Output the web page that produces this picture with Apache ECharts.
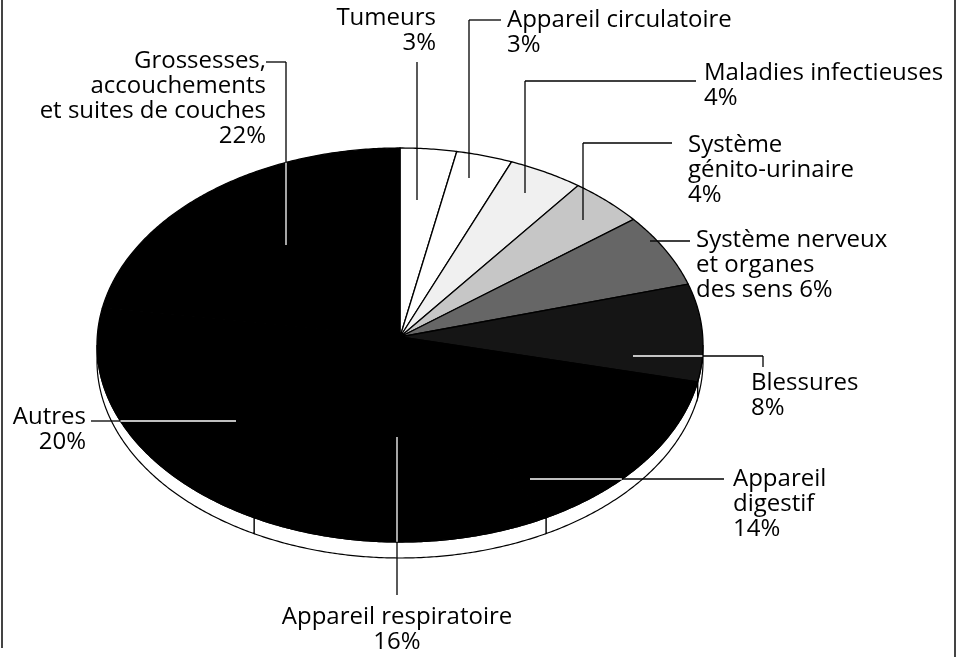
<!DOCTYPE html>
<html><head><meta charset="utf-8">
<script src="https://cdn.jsdelivr.net/npm/echarts@6/dist/echarts.min.js"></script>
<style>html,body{margin:0;padding:0;background:#fff}#c{width:959px;height:657px}</style>
</head><body><div id="c"></div>
<script>
// ---- data ----
const categories = ['Tumeurs','Appareil circulatoire','Maladies infectieuses','Système génito-urinaire','Système nerveux et organes des sens','Blessures','Appareil digestif','Appareil respiratoire','Autres','Grossesses, accouchements et suites de couches'];
const values = [3,3,4,4,6,8,14,16,20,22];
const labelTexts = ['Tumeurs\n{p}','Appareil circulatoire\n{p}','Maladies infectieuses\n{p}','Système\ngénito-urinaire\n{p}','Système nerveux\net organes\ndes sens {p}','Blessures\n{p}','Appareil\ndigestif\n{p}','Appareil respiratoire\n{p}','Autres\n{p}','Grossesses,\naccouchements\net suites de couches\n{p}'];

// ---- styles / layout ----
const fills = ['#ffffff','#ffffff','#f0f0f0','#c6c6c6','#666666','#151515','#000000','#000000','#000000','#000000'];
const darkSlice = [false,false,false,false,false,true,true,true,true,true];
const G = {cx:400, cy:345, rx:303, ry:197, apexY:337, depth:16};
const FONT = '24px "Open Sans"';
const LH = 25;
const labelLayout = [
  {x:436,y:6,align:'right', line:[[417,62],[417,200]]},
  {x:507,y:8,align:'left', line:[[501,20],[469,20],[469,178]]},
  {x:704,y:61,align:'left', line:[[696,81],[525,81],[525,193]]},
  {x:688,y:133,align:'left', line:[[672,143],[583,143],[583,220]]},
  {x:696,y:228,align:'left', line:[[690,241],[650,241]]},
  {x:751,y:371,align:'left', line:[[763,367],[763,356],[633,356]]},
  {x:733,y:467,align:'left', line:[[724,479],[530,479]]},
  {x:397,y:605,align:'center', line:[[397,595],[397,437]]},
  {x:86,y:405,align:'right', line:[[91,421],[236,421]]},
  {x:266,y:49,align:'right', line:[[266,62],[286,62],[286,245]]}
];

const total = values.reduce((a,b)=>a+b,0);
const startPct = [];
values.reduce((acc,v,i)=>{startPct[i]=acc;return acc+v;},0);

function ell(deg, dy){
  const r = deg*Math.PI/180;
  return [G.cx + G.rx*Math.sin(r), G.cy - G.ry*Math.cos(r) + (dy||0)];
}
function arcPts(a,b,dy){
  const pts=[]; const n=Math.max(2,Math.ceil((b-a)/0.5));
  for(let k=0;k<=n;k++) pts.push(ell(a+(b-a)*k/n,dy));
  return pts;
}
function inside(x,y){
  const u=(x-G.cx)/G.rx, v=(y-G.cy)/G.ry; return u*u+v*v<1;
}

function renderSlice(params, api){
  const i = params.dataIndex;
  const v = api.value(0);
  const a = startPct[i]/total*360, b = (startPct[i]+v)/total*360;
  const children = [];
  const ra = Math.max(a,90), rb = Math.min(b,270);
  if (rb > ra){
    const top = arcPts(ra,rb,0), bot = arcPts(ra,rb,G.depth).reverse();
    children.push({type:'polygon', shape:{points: top.concat(bot)}, style:{fill:'#fff', stroke:'#000', lineWidth:1.2}});
  }
  const pts = [[G.cx,G.apexY]].concat(arcPts(a,b,0));
  children.push({type:'polygon', shape:{points:pts}, style:{fill:fills[i], stroke:'#000', lineWidth:1.3}});
  return {type:'group', children};
}

function renderLabel(params, api){
  const i = params.dataIndex;
  const v = api.value(0);
  const L = labelLayout[i];
  const children = [];
  for (let s=0;s<L.line.length-1;s++){
    const p=L.line[s], q=L.line[s+1];
    const N=300; let cur=null, curIn=null;
    for(let k=0;k<=N;k++){
      const x=p[0]+(q[0]-p[0])*k/N, y=p[1]+(q[1]-p[1])*k/N;
      const inn=inside(x,y);
      if(cur===null){cur=[[x,y]];curIn=inn;}
      else if(inn!==curIn){
        cur.push([x,y]);
        children.push({type:'polyline',shape:{points:cur},style:{stroke:(curIn&&darkSlice[i])?'#fff':'#000',lineWidth:1.3,fill:null}});
        cur=[[x,y]];curIn=inn;
      } else cur.push([x,y]);
    }
    children.push({type:'polyline',shape:{points:cur},style:{stroke:(curIn&&darkSlice[i])?'#fff':'#000',lineWidth:1.3,fill:null}});
  }
  children.push({type:'text', style:{text: labelTexts[i].replace('{p}', v+'%'), x:L.x, y:L.y, align:L.align, verticalAlign:'top', font:FONT, lineHeight:LH, fill:'#000'}});
  return {type:'group', children};
}

const seriesData = values.map((v,i)=>({name:categories[i], value:v}));
const chart = echarts.init(document.getElementById('c'), null, {renderer:'canvas'});
chart.setOption({
  backgroundColor:'#fff',
  animation:false,
  graphic:[
    {type:'line', shape:{x1:2,y1:0,x2:2,y2:648}, style:{stroke:'#444',lineWidth:2}},
    {type:'line', shape:{x1:955,y1:0,x2:955,y2:657}, style:{stroke:'#444',lineWidth:2}}
  ],
  series:[
    {type:'custom', coordinateSystem:'none', silent:true, renderItem:renderSlice, data:seriesData, z:1},
    {type:'custom', coordinateSystem:'none', silent:true, renderItem:renderLabel, data:seriesData, z:2}
  ]
});
</script></body></html>
